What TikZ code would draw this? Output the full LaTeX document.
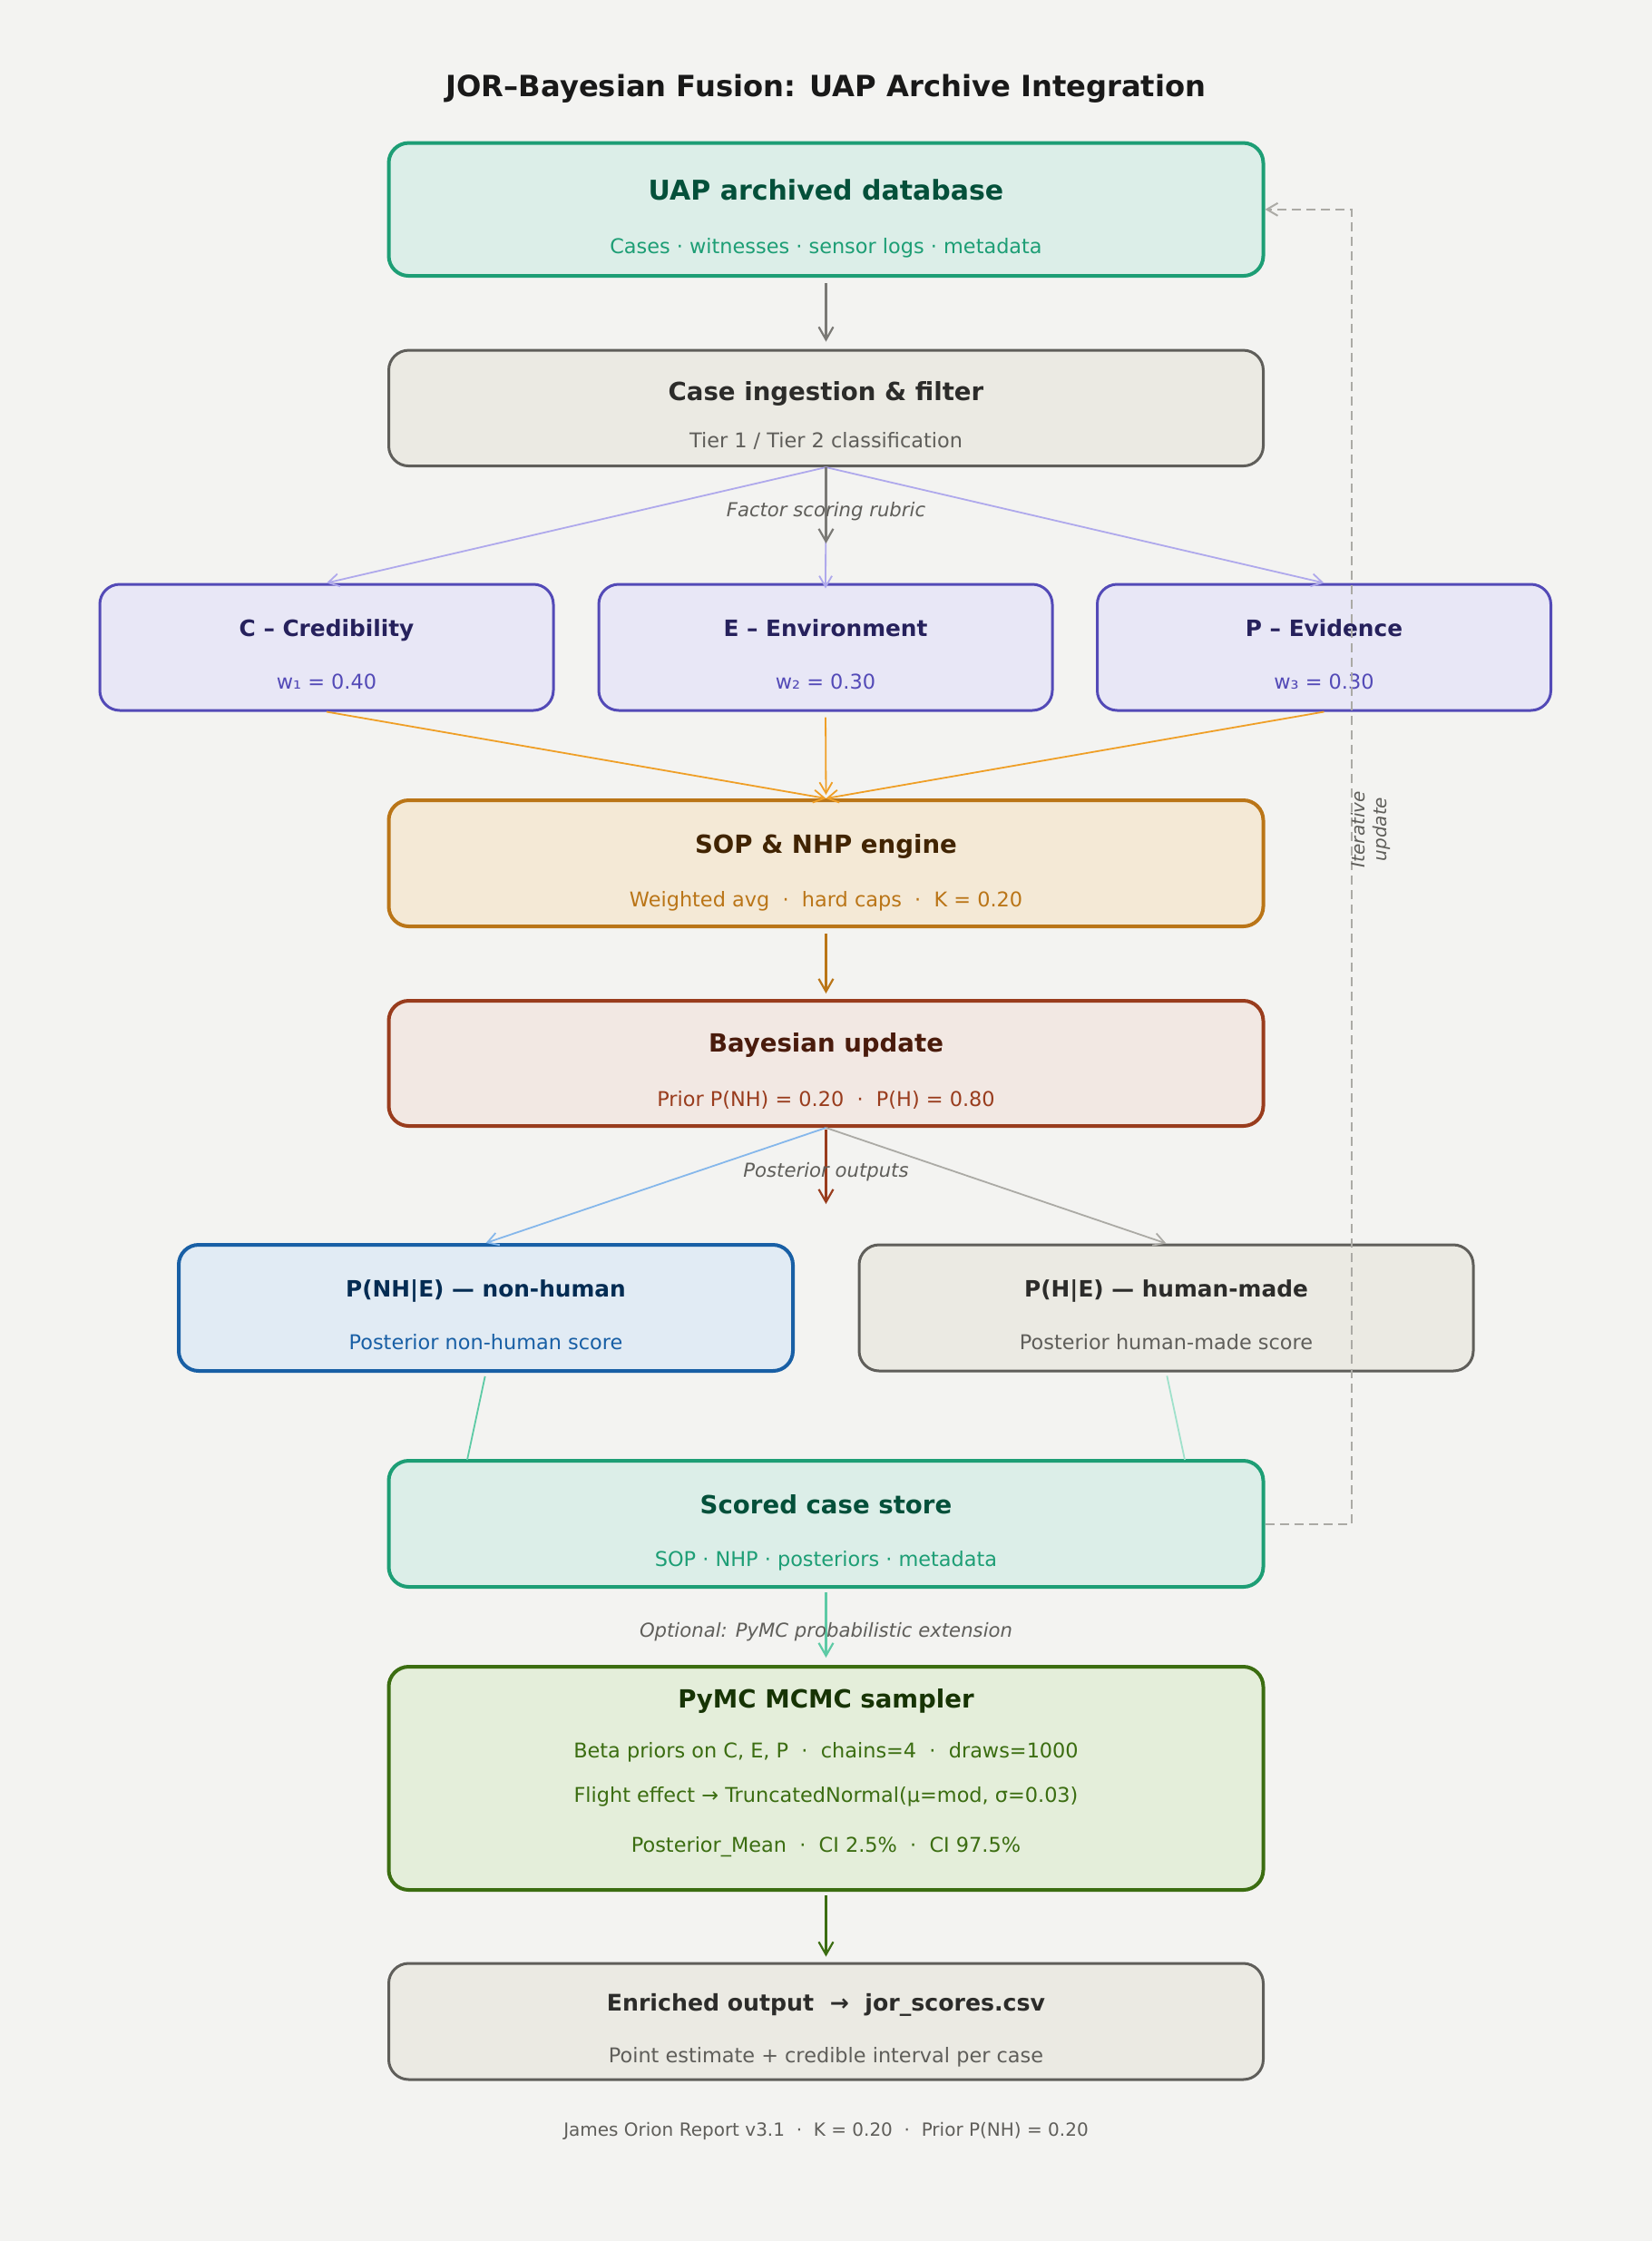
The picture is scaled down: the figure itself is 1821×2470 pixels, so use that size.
\documentclass[tikz,border=0pt]{standalone}
\usepackage{fontspec}
\setmainfont{DejaVu Sans}
\usetikzlibrary{arrows.meta}
\definecolor{bg}{HTML}{F3F3F1}
\definecolor{tealB}{HTML}{1D9E75}\definecolor{tealF}{HTML}{DCEEE8}\definecolor{tealT}{HTML}{04503A}
\definecolor{grayB}{HTML}{5F5E5A}\definecolor{grayF}{HTML}{EBEAE3}\definecolor{grayT}{HTML}{2C2C2A}
\definecolor{purB}{HTML}{534AB7}\definecolor{purF}{HTML}{E8E7F6}\definecolor{purT}{HTML}{26215C}
\definecolor{ambB}{HTML}{BA7517}\definecolor{ambF}{HTML}{F4E9D6}\definecolor{ambT}{HTML}{412402}
\definecolor{corB}{HTML}{993C1D}\definecolor{corF}{HTML}{F2E8E3}\definecolor{corT}{HTML}{4A1B0C}
\definecolor{bluB}{HTML}{185FA5}\definecolor{bluF}{HTML}{E1EBF4}\definecolor{bluT}{HTML}{042C53}
\definecolor{grnB}{HTML}{3B6D11}\definecolor{grnF}{HTML}{E4EEDA}\definecolor{grnT}{HTML}{173404}
\definecolor{lav}{HTML}{AFA9EC}\definecolor{orng}{HTML}{EF9F27}\definecolor{lblue}{HTML}{85B7EB}
\definecolor{lgray}{HTML}{ABAAA5}\definecolor{lteal}{HTML}{5DCAA5}\definecolor{lteal2}{HTML}{9FE1CB}
\definecolor{midgray}{HTML}{7A7975}
\begin{document}
\begin{tikzpicture}[x=0.5pt,y=-0.5pt,
  box/.style={draw, rounded corners=11pt, inner sep=0pt, line width=2pt},
  thinbox/.style={box, line width=1.5pt},
  txt/.style={inner sep=0pt, text height=0.9em, text depth=0.1em},
  ttl/.style={txt, font=\bfseries\fontsize{13.8}{16}\selectfont},
  bigttl/.style={txt, font=\bfseries\fontsize{15}{17}\selectfont},
  smttl/.style={txt, font=\bfseries\fontsize{12.6}{15}\selectfont},
  fttl/.style={txt, font=\bfseries\fontsize{12.4}{14}\selectfont},
  sub/.style={txt, font=\fontsize{11.2}{13}\selectfont},
  lbl/.style={font=\itshape\fontsize{10.6}{12}\selectfont, text=grayB, inner sep=0pt},
  arr/.style={-{Straight Barb[length=7pt,width=8pt]}, line width=1.1pt},
  darr/.style={-{Straight Barb[length=6pt,width=7pt]}, line width=0.9pt},
  ln/.style={line width=0.9pt}
]
\fill[bg] (0,0) rectangle (1821,2470);
\useasboundingbox (0,0) rectangle (1821,2470);

\node[font=\bfseries\fontsize{16.1}{19}\selectfont, text=black!90] (title) at (910.5,97.7) {JOR–Bayesian Fusion: UAP Archive Integration};

% boxes
\node[box, draw=tealB, fill=tealF, minimum width=482pt, minimum height=73.25pt] (uap) at (910.5,230.8) {};
\node[bigttl, text=tealT] (uapT) at (910.5,212.7) {UAP archived database};
\node[sub, text=tealB] (uapS) at (910.5,271) {Cases · witnesses · sensor logs · metadata};

\node[thinbox, draw=grayB, fill=grayF, minimum width=482pt, minimum height=63.75pt] (case) at (910.5,449.8) {};
\node[ttl, text=grayT] (caseT) at (910.5,433) {Case ingestion \& filter};
\node[sub, text=grayB] (caseS) at (910.5,485) {Tier 1 / Tier 2 classification};

\node[thinbox, draw=purB, fill=purF, minimum width=250pt, minimum height=69.5pt] (cc) at (360,713.5) {};
\node[fttl, text=purT] (ccT) at (360,693) {C – Credibility};
\node[sub, text=purB] (ccS) at (360,751) {w₁ = 0.40};
\node[thinbox, draw=purB, fill=purF, minimum width=250pt, minimum height=69.5pt] (ee) at (910,713.5) {};
\node[fttl, text=purT] (eeT) at (910,693) {E – Environment};
\node[sub, text=purB] (eeS) at (910,751) {w₂ = 0.30};
\node[thinbox, draw=purB, fill=purF, minimum width=250pt, minimum height=69.5pt] (pp) at (1459.5,713.5) {};
\node[fttl, text=purT] (ppT) at (1459.5,693) {P – Evidence};
\node[sub, text=purB] (ppS) at (1459.5,751) {w₃ = 0.30};

\node[box, draw=ambB, fill=ambF, minimum width=482pt, minimum height=69.5pt] (sop) at (910.5,951.5) {};
\node[ttl, text=ambT] (sopT) at (910.5,932.6) {SOP \& NHP engine};
\node[sub, text=ambB] (sopS) at (910.5,991) {Weighted avg \ · \ hard caps \ · \ K = 0.20};

\node[box, draw=corB, fill=corF, minimum width=482pt, minimum height=69pt] (bay) at (910.5,1172) {};
\node[ttl, text=corT] (bayT) at (910.5,1151.5) {Bayesian update};
\node[sub, text=corB] (bayS) at (910.5,1211) {Prior P(NH) = 0.20 \ · \ P(H) = 0.80};

\node[box, draw=bluB, fill=bluF, minimum width=338.5pt, minimum height=69.5pt] (pnh) at (535.5,1441.5) {};
\node[fttl, text=bluT] (pnhT) at (535.5,1421) {P(NH|E) — non-human};
\node[sub, text=bluB] (pnhS) at (535.5,1479) {Posterior non-human score};
\node[thinbox, draw=grayB, fill=grayF, minimum width=338.5pt, minimum height=69.5pt] (ph) at (1285.5,1441.5) {};
\node[fttl, text=grayT] (phT) at (1285.5,1421) {P(H|E) — human-made};
\node[sub, text=grayB] (phS) at (1285.5,1479) {Posterior human-made score};

\node[box, draw=tealB, fill=tealF, minimum width=482pt, minimum height=69.5pt] (sc) at (910.5,1679.5) {};
\node[ttl, text=tealT] (scT) at (910.5,1660) {Scored case store};
\node[sub, text=tealB] (scS) at (910.5,1718.6) {SOP · NHP · posteriors · metadata};

\node[box, draw=grnB, fill=grnF, minimum width=482pt, minimum height=123pt] (mc) at (910.5,1960) {};
\node[ttl, text=grnT] (mcT) at (910.5,1874.6) {PyMC MCMC sampler};
\node[sub, text=grnB] (mcS1) at (910.5,1929.7) {Beta priors on C, E, P \ · \ chains=4 \ · \ draws=1000};
\node[sub, text=grnB] (mcS2) at (910.5,1978.6) {Flight effect → TruncatedNormal(μ=mod, σ=0.03)};
\node[sub, text=grnB] (mcS3) at (910.5,2033.7) {Posterior\_Mean \ · \ CI 2.5\% \ · \ CI 97.5\%};

\node[thinbox, draw=grayB, fill=grayF, minimum width=482pt, minimum height=64pt] (en) at (910.5,2228) {};
\node[smttl, text=grayT] (enT) at (910.5,2208.6) {Enriched output \ → \ jor\_scores.csv};
\node[sub, text=grayB] (enS) at (910.5,2265.3) {Point estimate + credible interval per case};

\node[font=\fontsize{10}{12}\selectfont, text=grayB] (foot) at (910.5,2348.8) {James Orion Report v3.1 \ · \ K = 0.20 \ · \ Prior P(NH) = 0.20};

% coordinates
\coordinate (caseArr) at (910.5,599);
\coordinate (bayArr) at (910.5,1327);
\coordinate (pnhEnd) at (515,1609);
\coordinate (phEnd) at (1306,1609);
\coordinate (fbA) at (1490,1679.5);
\coordinate (fbB) at (1490,230.8);

% connectors
\draw[arr, draw=midgray, shorten <=3pt, shorten >=4pt] (uap.south) -- (case.north);
\draw[darr, draw=lav] (case.south) -- (cc.north);
\draw[darr, draw=lav] (case.south) -- ([yshift=-3pt]ee.north);
\draw[darr, draw=lav] (case.south) -- (pp.north);
\draw[arr, draw=midgray] (case.south) -- (caseArr);
\node[lbl] (rubric) at (910.5,564) {Factor scoring rubric};

\draw[darr, draw=orng] (cc.south) -- (sop.north);
\draw[darr, draw=orng, shorten <=3pt, shorten >=2pt] (ee.south) -- (sop.north);
\draw[darr, draw=orng] (pp.south) -- (sop.north);

\draw[arr, draw=ambB, shorten <=3pt, shorten >=3pt] (sop.south) -- (bay.north);

\draw[darr, draw=lblue] (bay.south) -- (pnh.north);
\draw[darr, draw=lgray] (bay.south) -- (ph.north);
\draw[arr, draw=corB, shorten <=1pt] (bay.south) -- (bayArr);
\node[lbl] (postout) at (910.5,1292) {Posterior outputs};

\draw[ln, draw=lteal, shorten <=2pt] (pnh.south) -- (pnhEnd);
\draw[ln, draw=lteal2, shorten <=2pt] (ph.south) -- (phEnd);

\draw[arr, draw=lteal, shorten <=2pt, shorten >=4pt] (sc.south) -- (mc.north);
\node[lbl] (opt) at (910.5,1799) {Optional: PyMC probabilistic extension};

\draw[arr, draw=grnB, shorten <=2pt, shorten >=3pt] (mc.south) -- (en.north);

\draw[darr, draw=lgray, dash pattern=on 5pt off 3pt, line width=1pt] (sc.east) -- (fbA) -- (fbB) -- (uap.east);
\node[lbl, rotate=90, align=center, font=\itshape\fontsize{10}{12}\selectfont] (iter) at (1511,914) {Iterative\\update};
\end{tikzpicture}
\end{document}
